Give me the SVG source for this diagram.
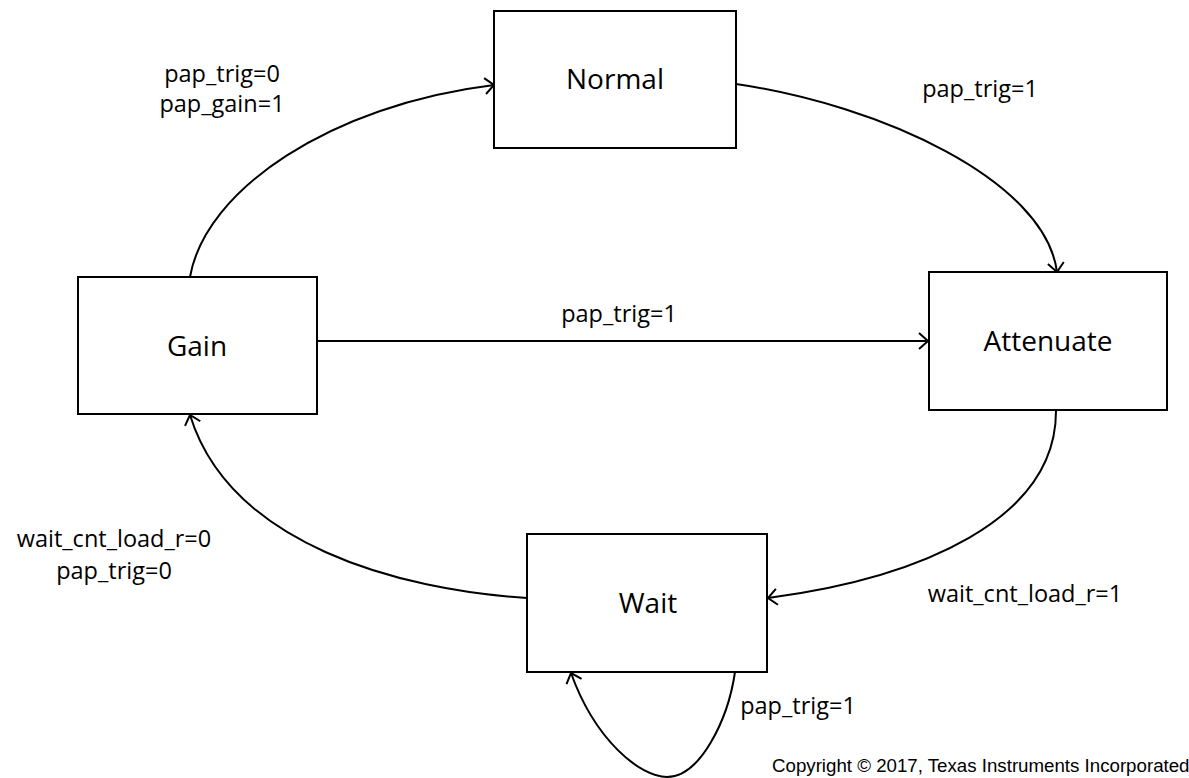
<svg xmlns="http://www.w3.org/2000/svg" width="1189" height="778" viewBox="0 0 1189 778">
<style>
.box{fill:#fff;stroke:#000;stroke-width:2}
.st{font-family:"Open Sans","Liberation Sans",sans-serif;font-size:28px;fill:#000;text-anchor:middle}
.lb{font-family:"Open Sans","Liberation Sans",sans-serif;font-size:23.5px;fill:#000;text-anchor:middle}
.cn{fill:none;stroke:#000;stroke-width:2;marker-end:url(#ah)}
.cp{font-family:"Liberation Sans",Arial,sans-serif;font-size:18.7px;fill:#000}
</style>
<defs>
<marker id="ah" markerWidth="16" markerHeight="18" refX="11" refY="9" orient="auto" markerUnits="userSpaceOnUse">
<path d="M2,1 L11,9 L2,17" fill="none" stroke="#000" stroke-width="2"/>
</marker>
</defs>
<rect width="1189" height="778" fill="#fff"/>
<g id="connectors">
<path class="cn" d="M190,277 C205,190 330,105 494,85"/>
<path class="cn" d="M736,84 C880,105 1045,180 1057,272"/>
<path class="cn" d="M317,341 L928,341"/>
<path class="cn" d="M1056,411 C1056,520 920,578 768,598"/>
<path class="cn" d="M527,598 C400,590 230,545 190,415"/>
<path class="cn" d="M735,672 C728,720 700,777 667,777 C640,777 595,740 571,673"/>
</g>
<g id="normal"><rect class="box" x="494" y="11" width="242" height="137"/><text class="st" x="615" y="89">Normal</text></g>
<g id="gain"><rect class="box" x="78" y="277" width="239" height="137"/><text class="st" x="197" y="356">Gain</text></g>
<g id="attenuate"><rect class="box" x="929" y="272" width="238" height="138"/><text class="st" x="1048" y="351">Attenuate</text></g>
<g id="wait"><rect class="box" x="527" y="534" width="240" height="138"/><text class="st" x="648" y="613">Wait</text></g>
<g id="labels">
<text class="lb" x="222" y="82">pap_trig=0</text>
<text class="lb" x="222" y="112">pap_gain=1</text>
<text class="lb" x="980" y="97">pap_trig=1</text>
<text class="lb" x="619" y="322">pap_trig=1</text>
<text class="lb" x="114" y="547">wait_cnt_load_r=0</text>
<text class="lb" x="114" y="579">pap_trig=0</text>
<text class="lb" x="1025" y="602">wait_cnt_load_r=1</text>
<text class="lb" x="798" y="714">pap_trig=1</text>
<text class="cp" x="772" y="772">Copyright © 2017, Texas Instruments Incorporated</text>
</g>
</svg>
